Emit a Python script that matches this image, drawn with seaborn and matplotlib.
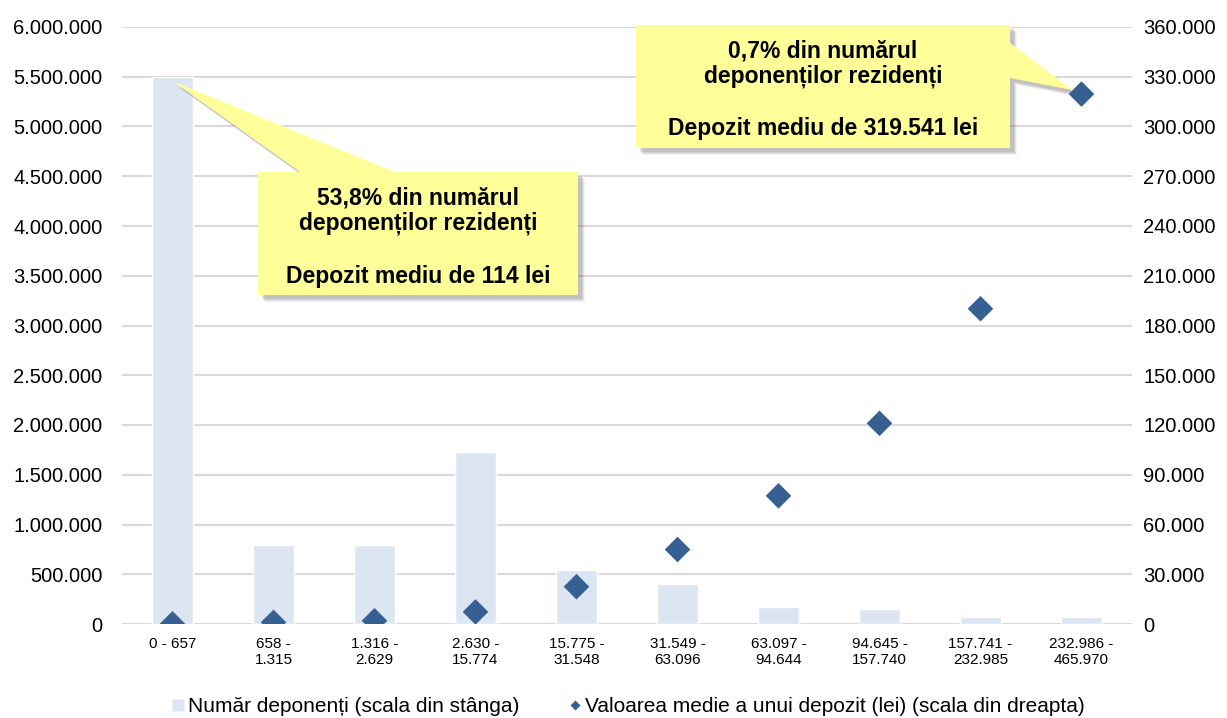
import numpy as np
import pandas as pd
import matplotlib
matplotlib.use("Agg")
import matplotlib.pyplot as plt
from matplotlib.patches import Polygon
from matplotlib.lines import Line2D
from matplotlib.ticker import FuncFormatter, MultipleLocator
import seaborn as sns

# intervale de sold (lei)
categories = ["0 - 657", "658 -\n1.315", "1.316 -\n2.629", "2.630 -\n15.774",
              "15.775 -\n31.548", "31.549 -\n63.096", "63.097 -\n94.644",
              "94.645 -\n157.740", "157.741 -\n232.985", "232.986 -\n465.970"]
# numar deponenti (scala stanga)
depositors = [5500000, 790000, 790000, 1730000, 543000, 402000, 171000, 154000, 70000, 70000]
# valoarea medie a unui depozit, lei (scala dreapta)
avg_deposit = [114, 980, 1950, 7300, 22500, 44900, 77300, 121000, 190100, 319541]

note_left = ("53,8% din numărul\ndeponenților rezidenți", "Depozit mediu de 114 lei")
note_right = ("0,7% din numărul\ndeponenților rezidenți", "Depozit mediu de 319.541 lei")
legend_labels = ["Număr deponenți (scala din stânga)",
                 "Valoarea medie a unui depozit (lei) (scala din dreapta)"]

bar_color = "#DCE6F2"
dot_color = "#376092"
grid_color = "#D9D9D9"
note_color = "#FFFF99"

df = pd.DataFrame({"cat": categories, "n": depositors, "avg": avg_deposit})

sns.set_style("white")
plt.rcParams["font.family"] = ["Liberation Sans", "DejaVu Sans"]
plt.rcParams["text.color"] = "black"
plt.rcParams["xtick.color"] = "black"
plt.rcParams["ytick.color"] = "black"

W, H = 1227, 718
fig = plt.figure(figsize=(W / 100, H / 100), dpi=100)
ax = fig.add_axes([122 / W, 1 - 624 / H, (1132 - 122) / W, (624 - 27) / H])

sns.barplot(data=df, x="cat", y="n", color=bar_color, saturation=1, width=0.4, ax=ax, zorder=2)
ax.set_ylim(0, 6000000)
ax.yaxis.set_major_locator(MultipleLocator(500000))
ax.grid(axis="y", color=grid_color, lw=1.5, zorder=0)
ax.set_axisbelow(True)

ax2 = ax.twinx()
sns.scatterplot(data=df, x="cat", y="avg", marker="D", s=170, color=dot_color,
                edgecolor="none", ax=ax2, zorder=3)
ax2.set_ylim(0, 360000)
ax2.yaxis.set_major_locator(MultipleLocator(30000))
ax.set_xlim(-0.5, len(categories) - 0.5)

fmt = FuncFormatter(lambda v, p: f"{int(round(v)):,}".replace(",", "."))
for a in (ax, ax2):
    a.yaxis.set_major_formatter(fmt)
    a.set_xlabel("")
    a.set_ylabel("")
    for s in a.spines.values():
        s.set_visible(False)
    a.tick_params(length=0)
ax.tick_params(axis="y", labelsize=14.5, pad=14)
ax2.tick_params(axis="y", labelsize=14.5, pad=8)
ax.tick_params(axis="x", labelsize=11, pad=9)

fig.canvas.draw()


def to_fig(xp, yp):
    return (xp / W, 1 - yp / H)


def disp_to_fig(pt):
    return fig.transFigure.inverted().transform(pt)


def callout(box, tip, base, side, text):
    # box: (x0, y0, x1, y1) in pixels from top-left; tip in figure fraction
    x0, y0, x1, y1 = box
    if side == "top":
        pts = [to_fig(x0, y0), to_fig(base[0], y0), tuple(tip), to_fig(base[1], y0),
               to_fig(x1, y0), to_fig(x1, y1), to_fig(x0, y1)]
    else:
        pts = [to_fig(x0, y0), to_fig(x1, y0), to_fig(x1, base[0]), tuple(tip),
               to_fig(x1, base[1]), to_fig(x1, y1), to_fig(x0, y1)]
    pts = np.array(pts)
    for k, al in [(7, 0.08), (6, 0.10), (5, 0.12), (4, 0.15)]:
        shadow = pts + np.array([k / W, -k / H])
        fig.add_artist(Polygon(shadow, closed=True, transform=fig.transFigure,
                               facecolor="#606060", edgecolor="none", alpha=al, zorder=5))
    fig.add_artist(Polygon(pts, closed=True, transform=fig.transFigure,
                           facecolor=note_color, edgecolor="none", zorder=6))
    cx = (x0 + x1) / 2
    fig.text(*to_fig(cx, y0 + 39), text[0], ha="center", va="center", fontsize=16.5,
             fontweight="bold", linespacing=1.1, zorder=7)
    fig.text(*to_fig(cx, y0 + 104), text[1], ha="center", va="center", fontsize=16.5,
             fontweight="bold", zorder=7)


tip1 = disp_to_fig(ax.transData.transform((0, depositors[0])) + np.array([1, -5]))
callout((258, 172, 578, 295), tip1, (300, 395), "top", note_left)

tip2 = disp_to_fig(ax2.transData.transform((len(categories) - 1, avg_deposit[-1])) + np.array([-9, 4]))
callout((636, 25, 1010, 148), tip2, (43, 78), "right", note_right)

handles = [Line2D([], [], marker="s", linestyle="none", markersize=9,
                  markerfacecolor=bar_color, markeredgecolor="none"),
           Line2D([], [], marker="D", linestyle="none", markersize=5.5,
                  markerfacecolor=dot_color, markeredgecolor="none")]
fig.legend(handles, legend_labels, loc="lower center", bbox_to_anchor=(0.512, -0.024),
           ncol=2, frameon=False, fontsize=15, handlelength=0.6, handletextpad=0.15,
           columnspacing=2.4)

fig.savefig("out.png", dpi=100)
